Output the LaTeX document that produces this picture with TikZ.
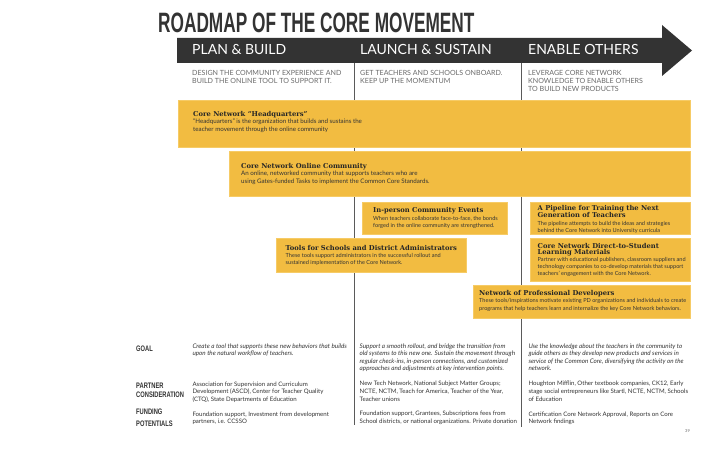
\documentclass[tikz,border=0pt]{standalone}
\usepackage{fontspec}
\setmainfont{Lato}
\newfontfamily\headfont[FakeStretch=0.616]{Liberation Sans}
\newfontfamily\lblfont[FakeStretch=0.72]{Liberation Sans}
\newfontfamily\slab{DejaVu Serif}
\definecolor{boxfill}{HTML}{F2BC41}
\definecolor{boxedge}{HTML}{F6CB66}
\definecolor{band}{HTML}{333333}
\definecolor{ink}{HTML}{333333}
\definecolor{subgray}{HTML}{6A6A6A}
\definecolor{rule}{HTML}{5A5A5A}
\begin{document}
\begin{tikzpicture}[x=1pt,y=-1pt,
  ybox/.style={draw=boxedge,fill=boxfill,line width=0.7pt,anchor=north west,inner sep=0pt},
  btitle/.style={anchor=base west,inner sep=0pt,align=left,text=black!85,font=\fontsize{6.75}{7.3}\selectfont\slab\bfseries},
  bdesc/.style={anchor=base west,inner sep=0pt,align=left,text=ink,font=\fontsize{5.6}{7.2}\selectfont},
  bdescL/.style={anchor=base west,inner sep=0pt,align=left,text=ink,font=\fontsize{6.2}{7.1}\selectfont},
  phase/.style={anchor=base west,inner sep=0pt,text=white,font=\fontsize{14}{16}\selectfont},
  phsub/.style={anchor=base west,inner sep=0pt,align=left,text=subgray,font=\fontsize{7.1}{8}\selectfont},
  rowlbl/.style={anchor=base west,inner sep=0pt,align=left,text=ink,font=\fontsize{8}{9}\selectfont\lblfont\bfseries},
  goaltxt/.style={anchor=base west,inner sep=0pt,align=left,text=ink,font=\fontsize{6.3}{7.35}\selectfont\itshape},
  bodytxt/.style={anchor=base west,inner sep=0pt,align=left,text=ink,font=\fontsize{6.1}{7.8}\selectfont},
  divider/.style={draw=rule,line width=0.6pt}
]
\useasboundingbox (0,0) rectangle (701,449);
\fill[white] (0,0) rectangle (701,449);

% title
\node[anchor=base west,inner sep=0pt,text=ink,font=\fontsize{28}{30}\selectfont\headfont\bfseries] (title) at (158,33) {ROADMAP OF THE CORE MOVEMENT};

% arrow band
\fill[band] (177,38) -- (662,38) -- (662,25) -- (692,50.5) -- (662,76) -- (662,63) -- (177,63) -- cycle;
\coordinate (arrowtip) at (692,50.5);

% dividers
\coordinate (d1top) at (354,63);
\coordinate (d1bot) at (354,425);
\coordinate (d2top) at (521,63);
\coordinate (d2bot) at (521,427);
\draw[divider] (d1top) -- (d1bot);
\draw[divider] (d2top) -- (d2bot);

% phase labels
\node[phase] (p1) at (192,55) {PLAN \& BUILD};
\node[phase] (p2) at (360,55) {LAUNCH \& SUSTAIN};
\node[phase] (p3) at (528,55) {ENABLE OTHERS};

% (multi-line nodes: anchor base = last line's baseline)
\node[phsub] (s1) at (192,83.5) {DESIGN THE COMMUNITY EXPERIENCE AND\\BUILD THE ONLINE TOOL TO SUPPORT IT.};
\node[phsub] (s2) at (360,83.5) {GET TEACHERS AND SCHOOLS ONBOARD.\\KEEP UP THE MOMENTUM};
\node[phsub] (s3) at (528,91.5) {LEVERAGE CORE NETWORK\\KNOWLEDGE TO ENABLE OTHERS\\TO BUILD NEW PRODUCTS};

% yellow boxes
\node[ybox,minimum width=512pt,minimum height=47pt] (hq) at (178,100) {};
\node[ybox,minimum width=461pt,minimum height=45pt] (oc) at (229,151) {};
\node[ybox,minimum width=145pt,minimum height=32pt] (ip) at (362,202) {};
\node[ybox,minimum width=190pt,minimum height=34pt] (tools) at (276,238) {};
\node[ybox,minimum width=160pt,minimum height=32pt] (pipe) at (530,202) {};
\node[ybox,minimum width=160pt,minimum height=43pt] (direct) at (530,238) {};
\node[ybox,minimum width=217pt,minimum height=33pt] (pd) at (473,285) {};

% box texts
\node[btitle] (hqt) at (193,116.5) {Core Network “Headquarters”};
\node[bdescL] (hqd) at (193,131.1) {“Headquarters” is the organization that builds and sustains the\\teacher movement through the online community};

\node[btitle] (oct) at (241,168.5) {Core Network Online Community};
\node[bdescL] (ocd) at (241,183.1) {An online, networked community that supports teachers who are\\using Gates-funded Tasks to implement the Common Core Standards.};

\node[btitle] (ipt) at (373,212.5) {In-person Community Events};
\node[bdesc] (ipd) at (373,227.2) {When teachers collaborate face-to-face, the bonds\\forged in the online community are strengthened.};

\node[btitle] (toolst) at (285.5,250) {Tools for Schools and District Administrators};
\node[bdesc] (toolsd) at (285.5,264.2) {These tools support administrators in the successful rollout and\\sustained implementation of the Core Network.};

\node[btitle] (pipet) at (537.5,218) {A Pipeline for Training the Next\\Generation of Teachers};
\node[bdesc] (piped) at (537.5,232.7) {The pipeline attempts to build the ideas and strategies\\behind the Core Network into University curricula};

\node[btitle,font=\fontsize{6.75}{6.4}\selectfont\slab\bfseries] (directt) at (537.5,254.7) {Core Network Direct-to-Student\\Learning Materials};
\node[bdesc] (directd) at (537.5,275.6) {Partner with educational publishers, classroom suppliers and\\technology companies to co-develop materials that support\\teachers’ engagement with the Core Network.};

\node[btitle] (pdt) at (479,295.7) {Network of Professional Developers};
\node[bdesc] (pdd) at (479,310.1) {These tools/inspirations motivate existing PD organizations and individuals to create\\programs that help teachers learn and internalize the key Core Network behaviors.};

% row labels
\node[rowlbl] (goal) at (136,351) {GOAL};
\node[rowlbl] (partner) at (136,397) {PARTNER\\CONSIDERATION};
\node[rowlbl,font=\fontsize{8}{12.2}\selectfont\lblfont\bfseries] (funding) at (136,426.7) {FUNDING\\POTENTIALS};

% goal row
\node[goaltxt] (g1) at (192.3,355.85) {Create a tool that supports these new behaviors that builds\\upon the natural workflow of teachers.};
\node[goaltxt] (g2) at (359.5,370.55) {Support a smooth rollout, and bridge the transition from\\old systems to this new one. Sustain the movement through\\regular check-ins, in-person connections, and customized\\approaches and adjustments at key intervention points.};
\node[goaltxt] (g3) at (528.3,370.55) {Use the knowledge about the teachers in the community to\\guide others as they develop new products and services in\\service of the Common Core, diversifying the activity on the\\network.};

% partner row
\node[bodytxt] (pa1) at (192.3,401.6) {Association for Supervision and Curriculum\\Development (ASCD), Center for Teacher Quality\\(CTQ), State Departments of Education};
\node[bodytxt] (pa2) at (359.5,401.3) {New Tech Network, National Subject Matter Groups;\\NCTE, NCTM, Teach for America, Teacher of the Year,\\Teacher unions};
\node[bodytxt] (pa3) at (528.3,401.3) {Houghton Mifflin, Other textbook companies, CK12, Early\\stage social entrepreneurs like Startl, NCTE, NCTM, Schools\\of Education};

% funding row
\node[bodytxt] (f1) at (192.3,423.8) {Foundation support, Investment from development\\partners, i.e. CCSSO};
\node[bodytxt] (f2) at (359.5,423.5) {Foundation support, Grantees, Subscriptions fees from\\School districts, or national organizations. Private donation};
\node[bodytxt] (f3) at (528.3,423.8) {Certification Core Network Approval, Reports on Core\\Network findings};

% page number
\node[anchor=base west,inner sep=0pt,text=subgray,font=\fontsize{4}{5}\selectfont] (pg) at (685,432) {39};
\end{tikzpicture}
\end{document}
